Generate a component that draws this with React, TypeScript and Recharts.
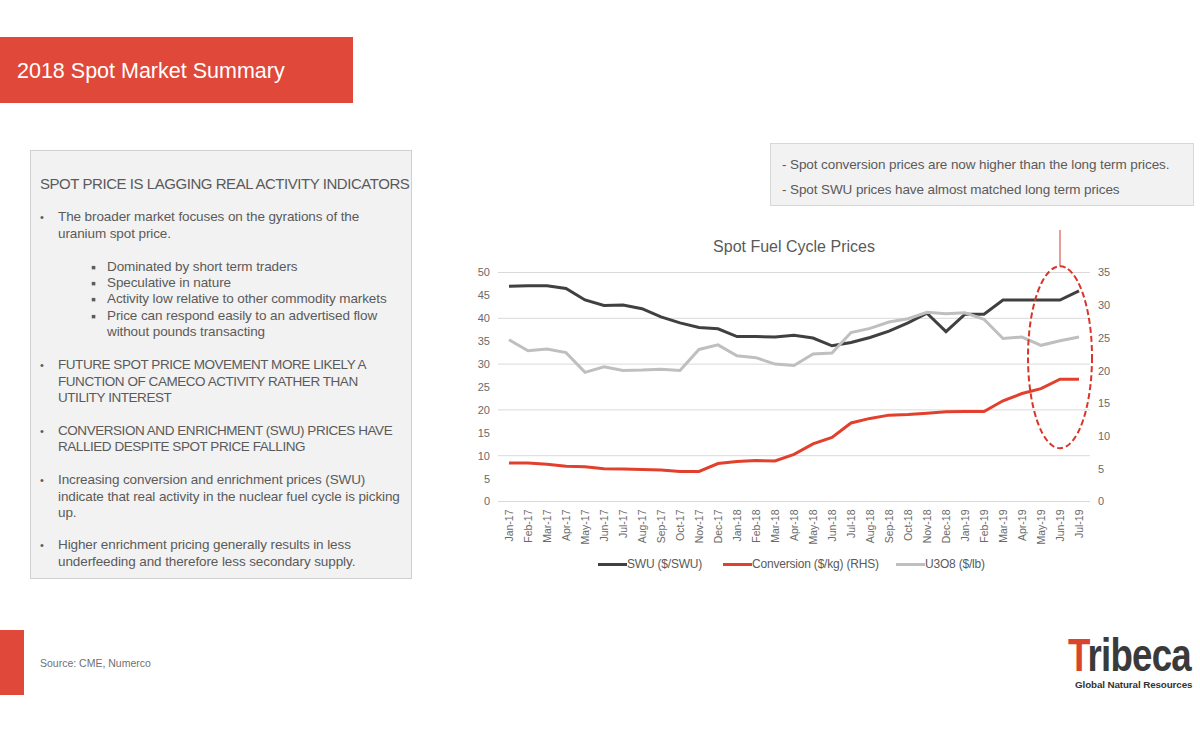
import React from 'react';
import { LineChart, Line, XAxis, YAxis, CartesianGrid, ReferenceDot } from 'recharts';

const months = ['Jan-17','Feb-17','Mar-17','Apr-17','May-17','Jun-17','Jul-17','Aug-17','Sep-17','Oct-17','Nov-17','Dec-17','Jan-18','Feb-18','Mar-18','Apr-18','May-18','Jun-18','Jul-18','Aug-18','Sep-18','Oct-18','Nov-18','Dec-18','Jan-19','Feb-19','Mar-19','Apr-19','May-19','Jun-19','Jul-19'];
const swu = [47, 47.1, 47.1, 46.5, 44, 42.8, 42.9, 42.1, 40.3, 39, 38, 37.7, 36, 36, 35.9, 36.3, 35.7, 34, 34.7, 35.8, 37.2, 39, 41.1, 37.1, 40.9, 40.9, 44, 44, 44, 44, 46];
const conversion = [5.9, 5.9, 5.7, 5.4, 5.3, 5.0, 4.95, 4.9, 4.8, 4.6, 4.6, 5.8, 6.1, 6.25, 6.2, 7.2, 8.8, 9.8, 12.0, 12.7, 13.2, 13.3, 13.5, 13.7, 13.75, 13.75, 15.4, 16.5, 17.25, 18.7, 18.7];
const u3o8 = [35.3, 32.9, 33.3, 32.5, 28.2, 29.4, 28.6, 28.7, 28.9, 28.6, 33.2, 34.2, 31.8, 31.4, 30.0, 29.7, 32.2, 32.4, 36.9, 37.8, 39.2, 39.9, 41.3, 41.0, 41.2, 39.8, 35.6, 35.9, 34.1, 35.1, 35.9];
const leftTicks = [0, 5, 10, 15, 20, 25, 30, 35, 40, 45, 50];
const rightTicks = [0, 5, 10, 15, 20, 25, 30, 35];
const seriesNames = ['SWU ($/SWU)', 'Conversion ($/kg) (RHS)', 'U3O8 ($/lb)'];
const highlightMonth = 'Jun-19';
const highlightValue = 31.5;

const data = months.map((m, i) => ({ month: m, swu: swu[i], conversion: conversion[i], u3o8: u3o8[i] }));

const FONT = '"Liberation Sans", Arial, Helvetica, sans-serif';
const RED = '#e0483a';
const DARK = '#404040';
const GRAY = '#bfbfbf';
const LINE_RED = '#e2402c';
const TXT = '#5a5a5a';

const XTick = (props: any) => {
  const { x, y, payload } = props;
  return (
    <text x={x} y={y} dy="0.35em" transform={`rotate(-90, ${x}, ${y})`} textAnchor="end" fontSize={10.5} fill="#6a6a6a" fontFamily={FONT}>
      {payload.value}
    </text>
  );
};

const EllipseShape = (props: any) => {
  const { cx, cy } = props;
  if (cx == null || cy == null) return null;
  return (
    <g>
      <line x1={cx} y1={cy - 91} x2={cx} y2={cy - 152} stroke="#d23a2a" strokeWidth={1} />
      <ellipse cx={cx} cy={cy} rx={32} ry={91} fill="none" stroke="#d9352a" strokeWidth={2} strokeDasharray="6 3" />
    </g>
  );
};

const bodyLines: { text: string; top: number; left: number; bullet?: string; caps?: boolean }[] = [
  { text: 'The broader market focuses on the gyrations of the', top: 209, left: 58, bullet: '•' },
  { text: 'uranium spot price.', top: 226, left: 58 },
  { text: 'Dominated by short term traders', top: 259, left: 107, bullet: '▪' },
  { text: 'Speculative in nature', top: 275, left: 107, bullet: '▪' },
  { text: 'Activity low relative to other commodity markets', top: 291, left: 107, bullet: '▪' },
  { text: 'Price can respond easily to an advertised flow', top: 308, left: 107, bullet: '▪' },
  { text: 'without pounds transacting', top: 324, left: 107 },
  { text: 'FUTURE SPOT PRICE MOVEMENT MORE LIKELY A', top: 357, left: 58, bullet: '•', caps: true },
  { text: 'FUNCTION OF CAMECO ACTIVITY RATHER THAN', top: 374, left: 58, caps: true },
  { text: 'UTILITY INTEREST', top: 390, left: 58, caps: true },
  { text: 'CONVERSION AND ENRICHMENT (SWU) PRICES HAVE', top: 423, left: 58, bullet: '•', caps: true },
  { text: 'RALLIED DESPITE SPOT PRICE FALLING', top: 439, left: 58, caps: true },
  { text: 'Increasing conversion and enrichment prices (SWU)', top: 472, left: 58, bullet: '•' },
  { text: 'indicate that real activity in the nuclear fuel cycle is picking', top: 489, left: 58 },
  { text: 'up.', top: 505, left: 58 },
  { text: 'Higher enrichment pricing generally results in less', top: 537, left: 58, bullet: '•' },
  { text: 'underfeeding and therefore less secondary supply.', top: 554, left: 58 },
];

const legendItems = [
  { name: seriesNames[0], color: DARK, left: 598 },
  { name: seriesNames[1], color: LINE_RED, left: 723 },
  { name: seriesNames[2], color: GRAY, left: 896 },
];

export default function App() {
  return (
    <div style={{ position: 'absolute', left: 0, top: 0, width: 1200, height: 732, background: '#fff', overflow: 'hidden', fontFamily: FONT }}>
      {/* Title banner */}
      <div style={{ position: 'absolute', left: 0, top: 37, width: 353, height: 66, background: RED }} />
      <div style={{ position: 'absolute', left: 17, top: 58, fontSize: 21.5, color: '#fff', whiteSpace: 'nowrap', lineHeight: '26px' }}>2018 Spot Market Summary</div>

      {/* Left text box */}
      <div style={{ position: 'absolute', left: 30, top: 150, width: 380, height: 427, background: '#f2f2f2', border: '1px solid #d0d0d0' }} />
      <div style={{ position: 'absolute', left: 40, top: 175, fontSize: 15, color: TXT, whiteSpace: 'nowrap', letterSpacing: -0.45, lineHeight: '18px' }}>SPOT PRICE IS LAGGING REAL ACTIVITY INDICATORS</div>
      {bodyLines.map((l, i) => (
        <React.Fragment key={i}>
          {l.bullet && (
            <div style={{ position: 'absolute', left: l.bullet === '•' ? 40 : 91, top: l.top, fontSize: l.bullet === '•' ? 11 : 14, color: TXT, lineHeight: '16px' }}>{l.bullet}</div>
          )}
          <div style={{ position: 'absolute', left: l.left, top: l.top, fontSize: 13.5, color: TXT, whiteSpace: 'nowrap', letterSpacing: l.caps ? -0.45 : -0.1, lineHeight: '16px' }}>{l.text}</div>
        </React.Fragment>
      ))}

      {/* Callout box */}
      <div style={{ position: 'absolute', left: 770, top: 143, width: 422, height: 61, background: '#f2f2f2', border: '1px solid #d8d8d8' }} />
      <div style={{ position: 'absolute', left: 782, top: 157, fontSize: 13.5, color: TXT, whiteSpace: 'nowrap', lineHeight: '16px', letterSpacing: -0.1 }}>- Spot conversion prices are now higher than the long term prices.</div>
      <div style={{ position: 'absolute', left: 782, top: 182, fontSize: 13.5, color: TXT, whiteSpace: 'nowrap', lineHeight: '16px', letterSpacing: -0.1 }}>- Spot SWU prices have almost matched long term prices</div>

      {/* Chart title */}
      <div style={{ position: 'absolute', left: 594, top: 237, width: 400, textAlign: 'center', fontSize: 16, color: TXT, lineHeight: '20px' }}>Spot Fuel Cycle Prices</div>

      {/* Chart */}
      <div style={{ position: 'absolute', left: 440, top: 230 }}>
        <LineChart width={700} height={370} data={data} margin={{ top: 42.5, right: 10, bottom: 48.5, left: 18 }}>
          <CartesianGrid yAxisId="left" vertical={false} stroke="#d9d9d9" strokeWidth={1} />
          <XAxis dataKey="month" interval={0} tick={<XTick />} tickLine={false} axisLine={{ stroke: '#d9d9d9' }} height={50} padding={{ left: 11, right: 11 }} />
          <YAxis yAxisId="left" orientation="left" domain={[0, 50]} ticks={leftTicks} width={40} axisLine={false} tickLine={false} tick={{ fontSize: 11, fill: '#6a6a6a', fontFamily: FONT }} />
          <YAxis yAxisId="right" orientation="right" domain={[0, 35]} ticks={rightTicks} width={40} axisLine={false} tickLine={false} tick={{ fontSize: 11, fill: '#6a6a6a', fontFamily: FONT }} />
          <Line yAxisId="left" type="linear" dataKey="swu" name={seriesNames[0]} stroke={DARK} strokeWidth={3} dot={false} isAnimationActive={false} />
          <Line yAxisId="right" type="linear" dataKey="conversion" name={seriesNames[1]} stroke={LINE_RED} strokeWidth={3} dot={false} isAnimationActive={false} />
          <Line yAxisId="left" type="linear" dataKey="u3o8" name={seriesNames[2]} stroke={GRAY} strokeWidth={3} dot={false} isAnimationActive={false} />
          <ReferenceDot yAxisId="left" x={highlightMonth} y={highlightValue} shape={<EllipseShape />} />
        </LineChart>
      </div>

      {/* Legend */}
      {legendItems.map((it) => (
        <div key={it.name} style={{ position: 'absolute', left: it.left, top: 556, display: 'flex', alignItems: 'center', whiteSpace: 'nowrap' }}>
          <div style={{ width: 29, height: 3, background: it.color }} />
          <div style={{ fontSize: 12, color: TXT, lineHeight: '16px', letterSpacing: -0.2 }}>{it.name}</div>
        </div>
      ))}

      {/* Footer */}
      <div style={{ position: 'absolute', left: 0, top: 630, width: 24, height: 65, background: RED }} />
      <div style={{ position: 'absolute', left: 40, top: 656, fontSize: 10.5, color: '#707070', whiteSpace: 'nowrap', lineHeight: '14px' }}>Source: CME, Numerco</div>

      {/* Logo */}
      <div style={{ position: 'absolute', left: 1068, top: 630, fontSize: 47, fontWeight: 'bold', whiteSpace: 'nowrap', lineHeight: '50px', letterSpacing: -1, transform: 'scaleX(0.78)', transformOrigin: '0 0' }}>
        <span style={{ color: '#d9442f' }}>T</span><span style={{ color: '#3a3a3a' }}>ribeca</span>
      </div>
      <div style={{ position: 'absolute', left: 1075, top: 679, fontSize: 9.8, fontWeight: 'bold', color: '#333', whiteSpace: 'nowrap', lineHeight: '12px', letterSpacing: -0.1 }}>Global Natural Resources</div>
    </div>
  );
}
